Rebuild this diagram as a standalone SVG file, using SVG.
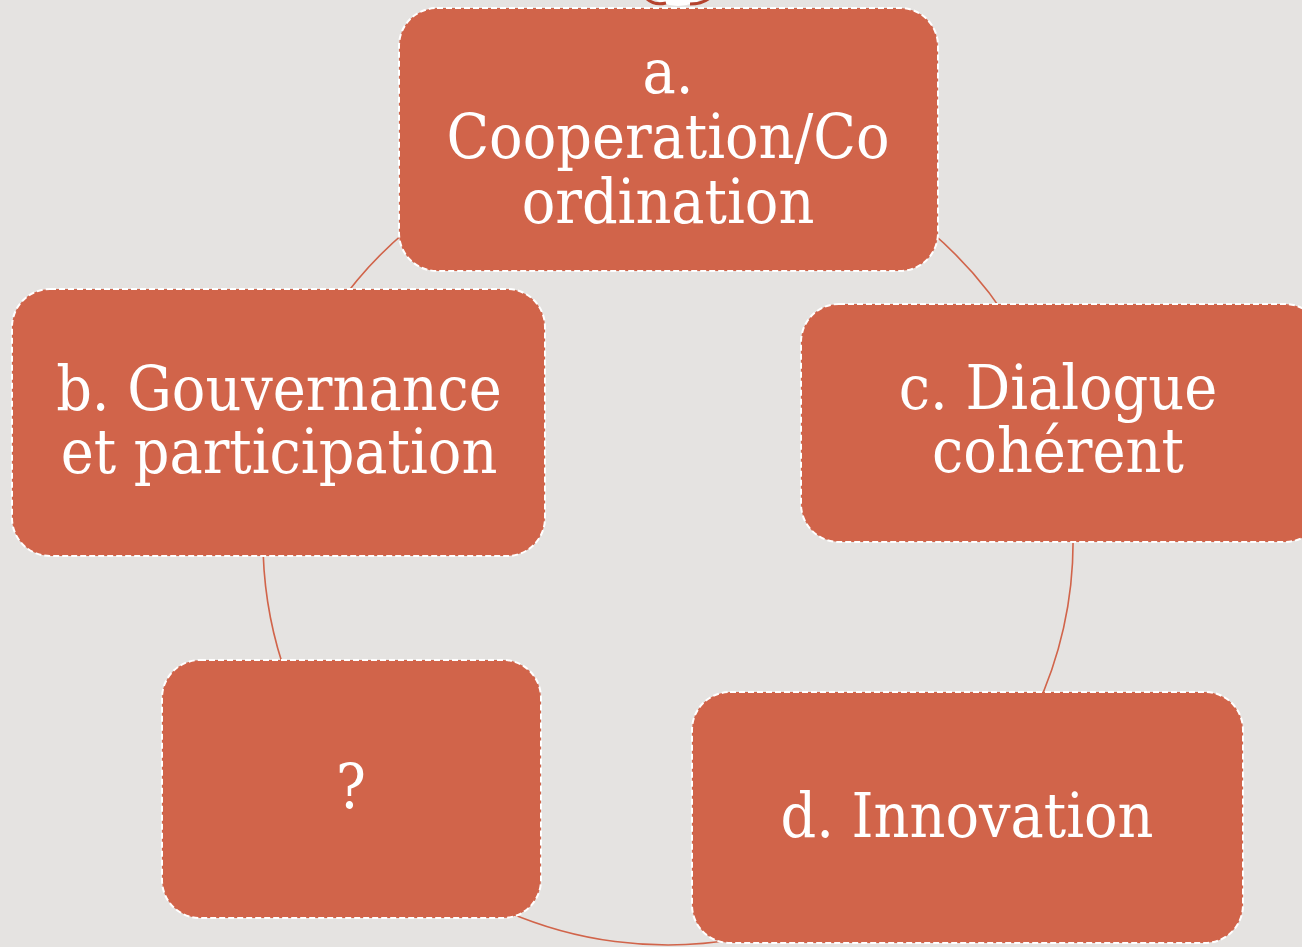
<svg xmlns="http://www.w3.org/2000/svg" width="1302" height="947" viewBox="0 0 1302 947">
<style>
.bg{fill:#E5E3E1}
.box{fill:#D1644A;stroke:#FFFFFF;stroke-width:2;stroke-dasharray:6 3}
.lbl{font-family:"DejaVu Serif Condensed","DejaVu Serif",serif;font-stretch:condensed;font-size:62px;fill:#FFFFFF;text-anchor:middle}
.conn{fill:none;stroke:#D1644A;stroke-width:1.6}
</style>
<rect class="bg" x="0" y="0" width="1302" height="947"/>
<g id="top-icon">
<ellipse cx="678" cy="-32" rx="41" ry="38" fill="#FFFFFF"/>
<path d="M646,-2 Q654,6 666,3" fill="none" stroke="#B5432E" stroke-width="3"/>
<path d="M690,4 Q704,4 712,-4" fill="none" stroke="#B5432E" stroke-width="3"/>
</g>
<g id="connectors">
<path class="conn" d="M900.3,208.2 A405,405 0 0 1 1035,368.8"/>
<path class="conn" d="M1071.5,504.7 A405,405 0 0 1 1035,711.2"/>
<path class="conn" d="M738.3,938.8 A405,405 0 0 1 496.8,907"/>
<path class="conn" d="M287.4,678.5 A405,405 0 0 1 263.2,554.1"/>
<path class="conn" d="M336.2,307.7 A405,405 0 0 1 435.7,208.3"/>
</g>
<g id="node-a">
<rect class="box" x="399" y="8" width="539" height="263" rx="38"/>
<text class="lbl" x="668" y="93">a.</text>
<text class="lbl" x="668" y="158">Cooperation/Co</text>
<text class="lbl" x="668" y="223">ordination</text>
</g>
<g id="node-b">
<rect class="box" x="12" y="289" width="533" height="267" rx="38"/>
<text class="lbl" x="279" y="410">b. Gouvernance</text>
<text class="lbl" x="279" y="473">et participation</text>
</g>
<g id="node-c">
<rect class="box" x="801" y="304" width="522" height="238" rx="38"/>
<text class="lbl" x="1058" y="409">c. Dialogue</text>
<text class="lbl" x="1058" y="472">cohérent</text>
</g>
<g id="node-q">
<rect class="box" x="162" y="660" width="379" height="258" rx="38"/>
<text class="lbl" x="351" y="808">?</text>
</g>
<g id="node-d">
<rect class="box" x="692" y="692" width="551" height="251" rx="38"/>
<text class="lbl" x="967" y="837">d. Innovation</text>
</g>
</svg>
